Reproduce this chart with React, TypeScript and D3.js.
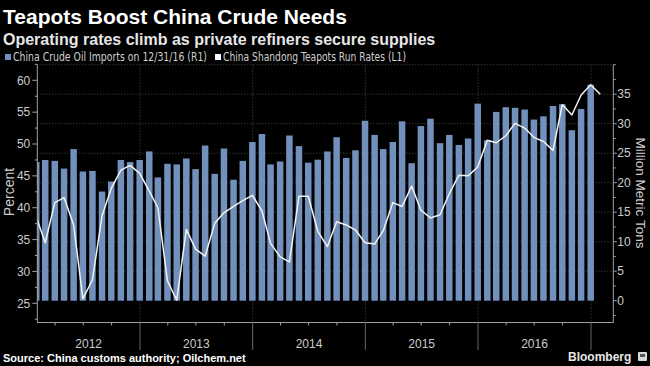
import React, { useEffect, useRef } from 'react';
import * as d3 from 'd3';

const width = 650;
const height = 366;

// China crude oil imports, million metric tons (R1), Jan 2012 - Dec 2016
const imports = [
  23.5, 23.85, 23.7, 22.4, 25.7, 21.9, 22.0, 18.5, 20.2, 23.85, 23.5, 23.85,
  25.3, 20.9, 23.2, 23.1, 24.1, 22.3, 26.3, 21.5, 25.8, 20.5, 23.7, 26.9,
  28.25, 23.1, 23.6, 28.0, 26.2, 23.4, 23.9, 25.3, 27.7, 24.2, 25.5, 30.5,
  28.1, 25.7, 26.9, 30.4, 23.3, 29.6, 30.85, 26.7, 28.1, 26.4, 27.5, 33.4,
  27.2, 32.0, 32.8, 32.7, 32.4, 30.7, 31.25, 33.0, 33.3, 28.9, 32.5, 36.6,
];

// Shandong teapots run rates, percent (L1), Jan 2012 - Jan 2017
const runRates = [
  38.5, 34.5, 40.8, 41.6, 37.3, 25.7, 28.7, 38.7, 43.05, 45.9, 46.65, 45.4,
  42.6, 40.0, 28.5, 25.5, 36.6, 33.5, 32.4, 37.55, 39.2, 40.2, 41.1, 41.95,
  39.5, 34.4, 32.3, 31.5, 41.8, 41.8, 36.3, 33.9, 37.8, 37.3, 36.5, 34.5,
  34.3, 36.4, 40.8, 40.2, 43.4, 39.6, 38.4, 38.9, 42.2, 45.1, 45.0, 46.4,
  50.6, 50.2, 51.3, 53.25, 52.5, 51.05, 50.4, 49.0, 56.2, 54.55, 57.7, 59.3,
  57.8,
];

const years = ['2012', '2013', '2014', '2015', '2016'];
const leftTicks = [25, 30, 35, 40, 45, 50, 55, 60];
const rightTicks = [0, 5, 10, 15, 20, 25, 30, 35];

const startYear = 2012;
const monthEnd = (i: number) => new Date(startYear, i + 1, 0);

const font = "'Liberation Sans', Arial, sans-serif";
const narrow = "'Liberation Sans Narrow', 'DejaVu Sans Condensed', 'Liberation Sans', sans-serif";

const TeapotsChart: React.FC = () => {
  const ref = useRef<SVGSVGElement>(null);

  useEffect(() => {
    if (!ref.current) return;
    document.body.style.margin = '0';
    document.body.style.background = '#000';

    const svg = d3.select(ref.current);
    svg.selectAll('*').remove();

    const left = 37.3;
    const right = 613.3;
    const top = 64.7;
    const bottom = 322.5;

    const x = d3
      .scaleTime()
      .domain([new Date(2013, 0, 1), new Date(2017, 0, 1)])
      .range([140, 591]);
    const yL = d3.scaleLinear().domain([25, 60]).range([303.3, 80.3]);
    const yR = d3.scaleLinear().domain([0, 35]).range([300.7, 94.2]);

    svg.append('rect').attr('width', width).attr('height', height).attr('fill', '#000');

    svg
      .append('defs')
      .append('clipPath')
      .attr('id', 'plot-clip')
      .append('rect')
      .attr('x', left)
      .attr('y', top)
      .attr('width', right - left)
      .attr('height', bottom - top);

    // titles
    svg
      .append('text')
      .attr('x', 3)
      .attr('y', 24)
      .attr('fill', '#fff')
      .style('font', `bold 21px ${font}`)
      .text('Teapots Boost China Crude Needs');
    svg
      .append('text')
      .attr('x', 3)
      .attr('y', 45)
      .attr('fill', '#e6e6e6')
      .style('font', `bold 16px ${font}`)
      .text('Operating rates climb as private refiners secure supplies');

    // legend
    const legend = [
      { label: 'China Crude Oil Imports on 12/31/16 (R1)', color: '#7190bb', x: 5, w: 194 },
      { label: 'China Shandong Teapots Run Rates (L1)', color: '#ffffff', x: 215, w: 183 },
    ];
    legend.forEach(l => {
      svg.append('rect').attr('x', l.x).attr('y', 54).attr('width', 6).attr('height', 6).attr('fill', l.color);
      svg
        .append('text')
        .attr('x', l.x + 8)
        .attr('y', 61)
        .attr('fill', '#cfcfcf')
        .attr('textLength', l.w)
        .attr('lengthAdjust', 'spacingAndGlyphs')
        .style('font', `12px ${narrow}`)
        .text(l.label);
    });

    // gridlines
    const grid = svg.append('g').attr('stroke', '#4a4a4a').attr('stroke-dasharray', '1,2');
    rightTicks
      .filter(t => t > 0)
      .concat([40])
      .forEach(t => {
        grid.append('line').attr('x1', left).attr('x2', right).attr('y1', yR(t)).attr('y2', yR(t));
      });
    const yearStarts = d3.range(startYear + 1, startYear + years.length + 1).map(y => new Date(y, 0, 1));
    yearStarts.forEach(d => {
      grid.append('line').attr('x1', x(d)).attr('x2', x(d)).attr('y1', top).attr('y2', bottom);
    });

    // bars
    const barW = 6.5;
    svg
      .append('g')
      .attr('clip-path', 'url(#plot-clip)')
      .selectAll('rect')
      .data(imports)
      .enter()
      .append('rect')
      .attr('x', (d, i) => x(monthEnd(i)) - barW / 2)
      .attr('y', d => yR(d))
      .attr('width', barW)
      .attr('height', d => yR(0) - yR(d))
      .attr('fill', '#7190bb');

    // line
    const line = d3
      .line<number>()
      .x((d, i) => x(monthEnd(i)))
      .y(d => yL(d));
    svg
      .append('path')
      .attr('clip-path', 'url(#plot-clip)')
      .attr('d', line(runRates))
      .attr('fill', 'none')
      .attr('stroke', '#f2f2f2')
      .attr('stroke-width', 1.5)
      .attr('stroke-linejoin', 'round');

    const axisColor = '#a0a0a0';
    const labelColor = '#cccccc';

    // left axis
    svg.append('line').attr('x1', left).attr('x2', left).attr('y1', top).attr('y2', bottom).attr('stroke', axisColor);
    leftTicks.forEach(t => {
      svg.append('line').attr('x1', left - 5).attr('x2', left).attr('y1', yL(t)).attr('y2', yL(t)).attr('stroke', axisColor);
      svg
        .append('text')
        .attr('x', left - 7)
        .attr('y', yL(t))
        .attr('dy', '0.35em')
        .attr('text-anchor', 'end')
        .attr('fill', labelColor)
        .style('font', `12px ${font}`)
        .text(t);
    });
    leftTicks.map(t => t - 2.5).concat([62.5]).forEach(t => {
      svg.append('line').attr('x1', left - 2.5).attr('x2', left).attr('y1', yL(t)).attr('y2', yL(t)).attr('stroke', axisColor);
    });
    svg
      .append('text')
      .attr('transform', `translate(14,192) rotate(-90)`)
      .attr('text-anchor', 'middle')
      .attr('fill', labelColor)
      .style('font', `14px ${font}`)
      .text('Percent');

    // right axis
    svg.append('line').attr('x1', right).attr('x2', right).attr('y1', top).attr('y2', bottom).attr('stroke', axisColor);
    rightTicks.forEach(t => {
      svg.append('line').attr('x1', right).attr('x2', right + 3.5).attr('y1', yR(t)).attr('y2', yR(t)).attr('stroke', axisColor);
      svg
        .append('text')
        .attr('x', right + 4)
        .attr('y', yR(t))
        .attr('dy', '0.35em')
        .attr('fill', labelColor)
        .style('font', `12px ${font}`)
        .text(t);
    });
    rightTicks.map(t => t - 2.5).concat([37.5, 40]).forEach(t => {
      svg.append('line').attr('x1', right).attr('x2', right + 2.5).attr('y1', yR(t)).attr('y2', yR(t)).attr('stroke', axisColor);
    });
    svg
      .append('text')
      .attr('transform', `translate(636,193) rotate(90)`)
      .attr('text-anchor', 'middle')
      .attr('fill', labelColor)
      .style('font', `13.5px ${font}`)
      .text('Million Metric Tons');

    // bottom axis
    svg.append('line').attr('x1', left).attr('x2', right).attr('y1', bottom).attr('y2', bottom).attr('stroke', axisColor);
    d3.timeMonth
      .every(3)!
      .range(new Date(startYear, 0, 1), new Date(2017, 0, 2))
      .filter(d => d.getMonth() !== 0)
      .forEach(d => {
        svg.append('line').attr('x1', x(d)).attr('x2', x(d)).attr('y1', bottom).attr('y2', bottom + 3).attr('stroke', axisColor);
      });
    yearStarts.forEach(d => {
      svg.append('line').attr('x1', x(d)).attr('x2', x(d)).attr('y1', bottom).attr('y2', 350).attr('stroke', '#666');
    });
    years.forEach(y => {
      const x0 = Math.max(left, x(new Date(+y, 0, 1)));
      const x1 = x(new Date(+y + 1, 0, 1));
      svg
        .append('text')
        .attr('x', (x0 + x1) / 2)
        .attr('y', 348)
        .attr('text-anchor', 'middle')
        .attr('fill', labelColor)
        .style('font', `12px ${font}`)
        .text(y);
    });

    // footer
    svg
      .append('text')
      .attr('x', 3)
      .attr('y', 362)
      .attr('fill', '#fff')
      .style('font', `bold 11px ${font}`)
      .text('Source: China customs authority; Oilchem.net');
    svg
      .append('text')
      .attr('x', 568)
      .attr('y', 361)
      .attr('fill', '#e6e6e6')
      .style('font', `bold 12px ${font}`)
      .text('Bloomberg');
    svg.append('rect').attr('x', 638).attr('y', 352).attr('width', 9).attr('height', 9).attr('rx', 1).attr('fill', '#d8d8d8');
    svg.append('rect').attr('x', 640).attr('y', 354).attr('width', 5).attr('height', 3).attr('fill', '#555');
  }, []);

  return <svg ref={ref} width={width} height={height} style={{ display: 'block' }} />;
};

export default function App() {
  return <TeapotsChart />;
}
